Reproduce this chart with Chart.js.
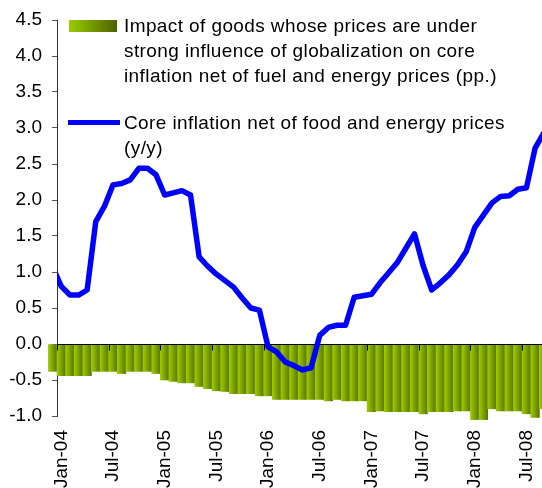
<!DOCTYPE html>
<html>
<head>
<meta charset="utf-8">
<script src="https://cdn.jsdelivr.net/npm/chart.js@4"></script>
<style>
html,body{margin:0;padding:0;overflow:hidden;background:#fff;}
#wrap{position:relative;width:548px;height:488px;}
.leg{position:absolute;font:19px/25px "Liberation Sans",Arial,sans-serif;color:#000;white-space:nowrap;letter-spacing:0.4px;}
</style>
</head>
<body>
<div id="wrap">
<canvas id="c"></canvas>
<div style="position:absolute;left:69px;top:20px;width:48px;height:12px;background:linear-gradient(to right,#99CC00,#4D6200);"></div>
<div class="leg" style="left:124px;top:12.5px;">Impact of goods whose prices are under<br>strong influence of globalization on core<br>inflation net of fuel and energy prices (pp.)</div>
<div style="position:absolute;left:68px;top:119.5px;width:52px;height:5.5px;background:#0000FF;"></div>
<div class="leg" style="left:124px;top:110px;">Core inflation net of food and energy prices<br>(y/y)</div>
</div>
<script>
const months = [
  'Dec-03',
  'Jan-04','Feb-04','Mar-04','Apr-04','May-04','Jun-04','Jul-04','Aug-04','Sep-04','Oct-04','Nov-04','Dec-04',
  'Jan-05','Feb-05','Mar-05','Apr-05','May-05','Jun-05','Jul-05','Aug-05','Sep-05','Oct-05','Nov-05','Dec-05',
  'Jan-06','Feb-06','Mar-06','Apr-06','May-06','Jun-06','Jul-06','Aug-06','Sep-06','Oct-06','Nov-06','Dec-06',
  'Jan-07','Feb-07','Mar-07','Apr-07','May-07','Jun-07','Jul-07','Aug-07','Sep-07','Oct-07','Nov-07','Dec-07',
  'Jan-08','Feb-08','Mar-08','Apr-08','May-08','Jun-08','Jul-08','Aug-08','Sep-08'
];

const globalizationImpact = [
  -0.38,
  -0.44,-0.44,-0.44,-0.44,-0.38,-0.38,-0.38,-0.41,-0.38,-0.38,-0.38,-0.41,
  -0.50,-0.52,-0.54,-0.54,-0.59,-0.62,-0.65,-0.66,-0.69,-0.69,-0.69,-0.72,
  -0.72,-0.77,-0.77,-0.77,-0.77,-0.77,-0.77,-0.79,-0.77,-0.79,-0.79,-0.79,
  -0.94,-0.93,-0.94,-0.94,-0.94,-0.94,-0.97,-0.94,-0.94,-0.94,-0.93,-0.93,
  -1.05,-1.05,-0.90,-0.93,-0.93,-0.93,-0.97,-1.02,-0.90
];

const coreInflation = [
  1.07,
  0.80,0.68,0.68,0.75,1.70,1.91,2.21,2.23,2.28,2.44,2.44,2.35,
  2.07,2.10,2.13,2.07,1.21,1.08,0.97,0.88,0.79,0.64,0.50,0.47,
  -0.04,-0.11,-0.25,-0.30,-0.36,-0.33,0.12,0.23,0.26,0.26,0.65,0.67,
  0.69,0.85,0.99,1.13,1.33,1.53,1.09,0.75,0.85,0.96,1.10,1.28,
  1.62,1.79,1.96,2.05,2.06,2.15,2.17,2.72,2.93
];

const seriesNames = [
  'Core inflation net of food and energy prices (y/y)',
  'Impact of goods whose prices are under strong influence of globalization on core inflation net of fuel and energy prices (pp.)'
];

const FONT = '"Liberation Sans", Arial, sans-serif';

function barFill(ctx) {
  const chart = ctx.chart;
  const xs = chart.scales && chart.scales.x;
  if (ctx.type !== 'data' || !xs || !chart.chartArea) return '#7FA800';
  const cx = xs.getPixelForValue(ctx.dataIndex);
  const w = Math.abs(xs.getPixelForValue(2) - xs.getPixelForValue(1));
  const g = chart.ctx.createLinearGradient(cx - w / 2, 0, cx + w / 2, 0);
  g.addColorStop(0, '#9DCC00');
  g.addColorStop(1, '#5A7500');
  return g;
}

const zeroLine = {
  id: 'zeroLine',
  beforeDatasetDraw(chart, args) {
    if (args.index !== 0) return;
    const {ctx, chartArea} = chart;
    const xs = chart.scales.x, ys = chart.scales.y;
    const y0 = Math.round(ys.getPixelForValue(0)) + 0.5;
    const w = xs.getPixelForValue(2) - xs.getPixelForValue(1);
    ctx.save();
    ctx.strokeStyle = '#000';
    ctx.lineWidth = 1;
    ctx.beginPath();
    ctx.moveTo(chartArea.left, y0);
    ctx.lineTo(chartArea.right, y0);
    for (let i = 1; i < months.length; i++) {
      if (/^(Jan|Jul)/.test(months[i])) {
        const x = Math.round(xs.getPixelForValue(i) - w / 2) + 0.5;
        ctx.moveTo(x, y0);
        ctx.lineTo(x, y0 + 6);
      }
    }
    ctx.stroke();
    ctx.restore();
  }
};

new Chart(document.getElementById('c'), {
  data: {
    labels: months,
    datasets: [
      {
        type: 'line',
        label: seriesNames[0],
        data: coreInflation,
        borderColor: '#0000FF',
        borderWidth: 5.5,
        pointRadius: 0,
        tension: 0,
        borderJoinStyle: 'round',
        borderCapStyle: 'round',
        fill: false
      },
      {
        type: 'bar',
        label: seriesNames[1],
        data: globalizationImpact,
        backgroundColor: barFill,
        borderWidth: 0,
        barPercentage: 1,
        categoryPercentage: 1,
        clip: false
      }
    ]
  },
  options: {
    responsive: true,
    maintainAspectRatio: false,
    animation: false,
    layout: {padding: {top: 20, right: 0, bottom: 0, left: 0}},
    plugins: {legend: {display: false}, tooltip: {enabled: false}},
    scales: {
      x: {
        type: 'category',
        min: 'Jan-04',
        max: 'Sep-08',
        offset: true,
        grid: {display: false, drawTicks: false},
        border: {display: false},
        ticks: {
          autoSkip: false,
          minRotation: 90,
          maxRotation: 90,
          padding: 14,
          color: '#000',
          font: {family: FONT, size: 19},
          callback(v) {
            const l = this.getLabelForValue(v);
            return /^(Jan|Jul)/.test(l) ? l : '';
          }
        },
        afterFit(s) { s.height = 72; s.paddingLeft = 0; s.paddingRight = 0; }
      },
      y: {
        min: -1,
        max: 4.5,
        z: 1,
        ticks: {
          stepSize: 0.5,
          padding: 10,
          color: '#000',
          font: {family: FONT, size: 19},
          callback: v => Number(v).toFixed(1)
        },
        grid: {drawOnChartArea: false, drawTicks: true, tickLength: 5, color: '#555'},
        border: {display: true, color: '#333', width: 1},
        afterFit(s) { s.width = 57; s.paddingTop = 0; s.paddingBottom = 0; }
      }
    }
  },
  plugins: [zeroLine]
});
</script>
</body>
</html>
